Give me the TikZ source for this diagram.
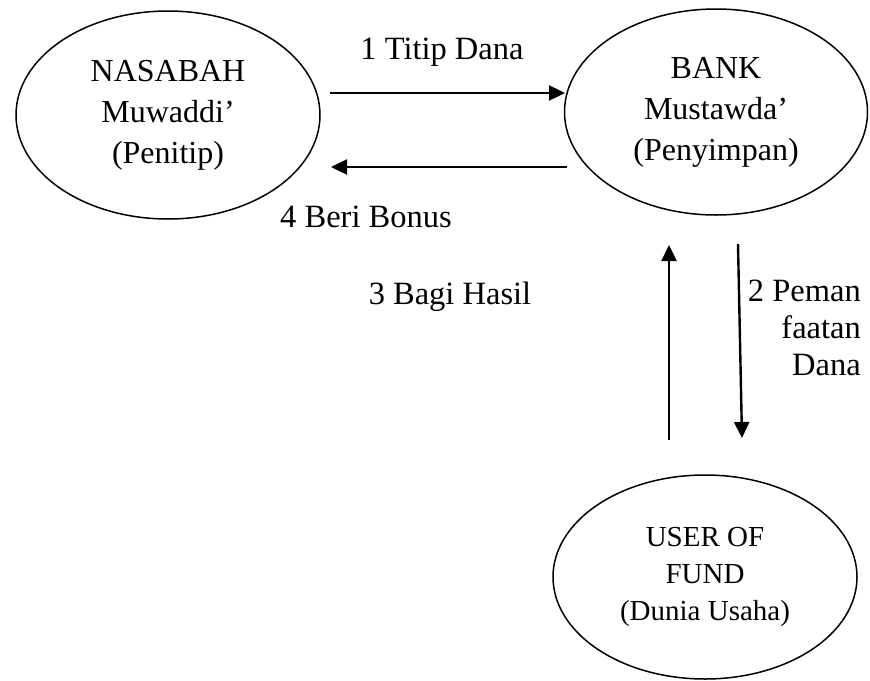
\documentclass[tikz,border=0pt]{standalone}
\usepackage{fontspec}
\setmainfont{Liberation Serif}
\usetikzlibrary{shapes.geometric,arrows.meta}
\tikzset{
  entity/.style={ellipse, draw, line width=1.5pt, inner sep=0pt, align=center,
    font=\fontsize{32}{41}\selectfont},
  flow/.style={line width=2.4pt, -{Triangle[length=16pt,width=15pt]}},
  lbl/.style={font=\fontsize{32.5}{37}\selectfont, inner sep=0pt}
}
\begin{document}
\begin{tikzpicture}[x=1pt,y=-1pt]
\useasboundingbox (0,0) rectangle (870,680);
\node[entity, minimum width=304pt, minimum height=208pt] (nas) at (168,115) {NASABAH\\Muwaddi’\\(Penitip)};
\node[entity, minimum width=303pt, minimum height=206pt] (bank) at (716,112) {BANK\\Mustawda’\\(Penyimpan)};
\node[entity, minimum width=304pt, minimum height=204pt, font=\fontsize{29}{37}\selectfont] (user) at (705,577) {USER OF\\FUND\\(Dunia Usaha)};
\coordinate (a1s) at (330,93);
\coordinate (a1e) at (565,93);
\coordinate (a4s) at (567,167);
\coordinate (a4e) at (331,167);
\coordinate (a3s) at (669,440);
\coordinate (a3e) at (669,245);
\coordinate (a2s) at (738,244);
\coordinate (a2e) at (742,438);
\draw[flow] (a1s) -- (a1e);
\draw[flow] (a4s) -- (a4e);
\draw[flow] (a3s) -- (a3e);
\draw[flow] (a2s) -- (a2e);
\node[lbl] (l1) at (442,52) {1 Titip Dana};
\node[lbl] (l4) at (366,217) {4 Beri Bonus};
\node[lbl] (l3) at (450,297) {3 Bagi Hasil};
\node[lbl, align=right, anchor=north east] (l2) at (861,280) {2 Peman\\faatan\\Dana};
\end{tikzpicture}
\end{document}
